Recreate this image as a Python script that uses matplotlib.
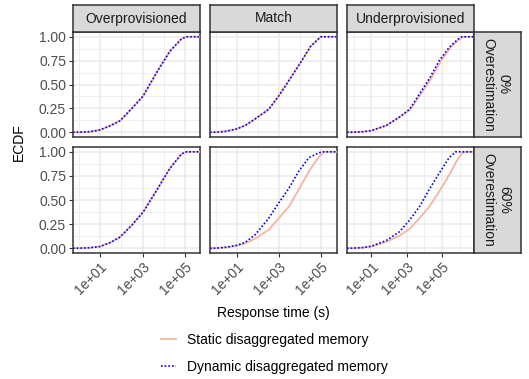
import matplotlib
matplotlib.use('Agg')
import matplotlib.pyplot as plt
import numpy as np
from matplotlib.lines import Line2D
from matplotlib.ticker import FixedLocator, FuncFormatter, NullFormatter

plt.rcParams['font.family'] = ['Liberation Sans', 'DejaVu Sans']

# ---------------- data ----------------
provisioning = ["Overprovisioned", "Match", "Underprovisioned"]
overestimation = ["0%\nOverestimation", "60%\nOverestimation"]
series_names = ["Static disaggregated memory", "Dynamic disaggregated memory"]
x_tick_exponents = [1, 3, 5]
y_ticks = [0.0, 0.25, 0.50, 0.75, 1.00]
y_tick_labels = ["0.00", "0.25", "0.50", "0.75", "1.00"]

# log10(response time in s) and ECDF values
over0_log10 = [0.0, 0.5, 1.0, 1.5, 1.94, 2.5, 3.03, 3.66, 4.29, 4.84, 5.07, 5.43]
over0_ecdf = [0.0, 0.005, 0.024, 0.07, 0.12, 0.25, 0.38, 0.625, 0.85, 0.98, 1.0, 1.0]
over60_log10 = [0.0, 0.5, 1.0, 1.5, 1.94, 2.5, 3.03, 3.66, 4.29, 4.84, 5.07, 5.43]
over60_ecdf = [0.0, 0.004, 0.017, 0.06, 0.115, 0.24, 0.375, 0.60, 0.83, 0.98, 1.0, 1.0]

match0_log10 = [0.0, 0.5, 1.0, 1.4, 1.88, 2.52, 3.0, 3.48, 4.04, 4.52, 5.0, 5.5]
match0_ecdf = [0.0, 0.01, 0.035, 0.07, 0.14, 0.24, 0.38, 0.54, 0.73, 0.90, 1.0, 1.0]
match60_static_log10 = [0.0, 0.5, 1.0, 1.4, 1.88, 2.52, 3.0, 3.48, 3.96, 4.44, 4.92, 5.16, 5.5]
match60_static_ecdf = [0.0, 0.008, 0.025, 0.05, 0.10, 0.19, 0.31, 0.43, 0.61, 0.80, 0.95, 1.0, 1.0]
match60_dynamic_log10 = [0.0, 0.5, 1.0, 1.4, 1.88, 2.52, 3.0, 3.48, 3.96, 4.44, 4.92, 5.08, 5.5]
match60_dynamic_ecdf = [0.0, 0.01, 0.03, 0.06, 0.14, 0.31, 0.47, 0.62, 0.80, 0.94, 0.99, 1.0, 1.0]

under0_static_log10 = [-0.06, 0.5, 1.0, 1.84, 2.62, 3.22, 3.80, 4.38, 4.95, 5.50, 5.95, 6.2, 6.49]
under0_static_ecdf = [0.0, 0.005, 0.017, 0.07, 0.16, 0.24, 0.40, 0.56, 0.75, 0.89, 0.97, 1.0, 1.0]
under0_dynamic_log10 = [-0.06, 0.5, 1.0, 1.84, 2.59, 3.16, 3.72, 4.28, 4.85, 5.41, 5.88, 6.12, 6.49]
under0_dynamic_ecdf = [0.0, 0.005, 0.017, 0.07, 0.16, 0.24, 0.40, 0.56, 0.75, 0.89, 0.97, 1.0, 1.0]
under60_static_log10 = [-0.06, 0.5, 1.0, 1.84, 2.59, 3.16, 3.72, 4.28, 4.85, 5.41, 5.88, 6.16, 6.35, 6.49]
under60_static_ecdf = [0.0, 0.005, 0.017, 0.066, 0.13, 0.20, 0.31, 0.43, 0.59, 0.76, 0.92, 0.99, 1.0, 1.0]
under60_dynamic_log10 = [-0.06, 0.5, 1.0, 1.84, 2.59, 3.16, 3.72, 4.28, 4.85, 5.41, 5.78, 6.49]
under60_dynamic_ecdf = [0.0, 0.006, 0.02, 0.08, 0.17, 0.29, 0.43, 0.61, 0.78, 0.94, 1.0, 1.0]

curves = {
    (0, 0): [(over0_log10, over0_ecdf), (over0_log10, over0_ecdf)],
    (0, 1): [(match0_log10, match0_ecdf), (match0_log10, match0_ecdf)],
    (0, 2): [(under0_static_log10, under0_static_ecdf), (under0_dynamic_log10, under0_dynamic_ecdf)],
    (1, 0): [(over60_log10, over60_ecdf), (over60_log10, over60_ecdf)],
    (1, 1): [(match60_static_log10, match60_static_ecdf), (match60_dynamic_log10, match60_dynamic_ecdf)],
    (1, 2): [(under60_static_log10, under60_static_ecdf), (under60_dynamic_log10, under60_dynamic_ecdf)],
}

# ---------------- style ----------------
W, H = 529, 379
static_color = '#F5B4A2'
dynamic_color = '#0000FF'
dark = '#333333'
grid_c = '#EBEBEB'
strip_bg = '#D9D9D9'
txt_c = '#4D4D4D'
FS = 10

fig = plt.figure(figsize=(W / 100, H / 100), dpi=100)
fig.patch.set_facecolor('white')


def fax(x0, x1, ytop, ybot):
    return fig.add_axes([x0 / W, 1 - ybot / H, (x1 - x0) / W, (ybot - ytop) / H])


col_x = [(73, 200), (210, 337), (347, 474)]
row_y = [(32, 137), (147, 253)]
strip_top = (5, 32)
strip_right = (474, 521)

# column x-ranges (data range + 5 % expansion in log space)
col_ranges = []
for c in range(3):
    allx = []
    for r in range(2):
        for xs, _ in curves[(r, c)]:
            allx += list(xs)
    lo, hi = min(allx), max(allx)
    pad = 0.05 * (hi - lo)
    col_ranges.append((lo - pad, hi + pad))

for r in range(2):
    for c in range(3):
        ax = fax(col_x[c][0], col_x[c][1], row_y[r][0], row_y[r][1])
        ax.set_xscale('log')
        lo, hi = col_ranges[c]
        ax.set_xlim(10 ** lo, 10 ** hi)
        ax.set_ylim(-0.05, 1.05)
        # grid
        ax.xaxis.set_major_locator(FixedLocator([10.0 ** e for e in x_tick_exponents]))
        ax.xaxis.set_minor_locator(FixedLocator([10.0 ** e for e in [0, 2, 4, 6]]))
        ax.xaxis.set_minor_formatter(NullFormatter())
        ax.yaxis.set_major_locator(FixedLocator(y_ticks))
        ax.yaxis.set_minor_locator(FixedLocator([0.125, 0.375, 0.625, 0.875]))
        ax.yaxis.set_minor_formatter(NullFormatter())
        ax.grid(which='major', color=grid_c, lw=1.1, zorder=0)
        ax.grid(which='minor', color=grid_c, lw=0.55, zorder=0)
        ax.set_axisbelow(True)
        for s in ax.spines.values():
            s.set_color(dark)
            s.set_linewidth(1.1)
        ax.tick_params(which='minor', length=0, labelbottom=False, labelleft=False)
        ax.tick_params(which='major', length=3, width=0.8, color=dark,
                       labelsize=FS, labelcolor=txt_c, pad=2)
        if c == 0:
            ax.set_yticklabels(y_tick_labels)
        else:
            ax.tick_params(axis='y', which='major', length=0, labelleft=False)
        if r == 1:
            ax.xaxis.set_major_formatter(FuncFormatter(lambda v, p: "1e+%02d" % int(round(np.log10(v)))))
            for lab in ax.get_xticklabels():
                lab.set_rotation(45)
                lab.set_ha('right')
                lab.set_va('top')
                lab.set_rotation_mode('anchor')
        else:
            ax.tick_params(axis='x', which='major', length=0, labelbottom=False)

        (sx, sy), (dx, dy) = curves[(r, c)]
        xl = ax.get_xlim()
        sxx = [xl[0]] + [10 ** v for v in sx] + [xl[1]]
        syy = [sy[0]] + list(sy) + [sy[-1]]
        dxx = [xl[0]] + [10 ** v for v in dx] + [xl[1]]
        dyy = [dy[0]] + list(dy) + [dy[-1]]
        ax.plot(sxx, syy, color=static_color, lw=1.3, solid_capstyle='butt', zorder=3)
        ax.plot(dxx, dyy, color=dynamic_color, lw=1.2, ls=(0, (1, 1.2)), zorder=4)
        ax.set_xlim(xl)

# strips
for c in range(3):
    sa = fax(col_x[c][0], col_x[c][1], strip_top[0], strip_top[1])
    sa.set_facecolor(strip_bg)
    sa.set_xticks([]); sa.set_yticks([])
    for s in sa.spines.values():
        s.set_color(dark); s.set_linewidth(1.1)
    sa.text(0.5, 0.5, provisioning[c], ha='center', va='center', fontsize=FS,
            color='#1A1A1A', transform=sa.transAxes)
for r in range(2):
    sa = fax(strip_right[0], strip_right[1], row_y[r][0], row_y[r][1])
    sa.set_facecolor(strip_bg)
    sa.set_xticks([]); sa.set_yticks([])
    for s in sa.spines.values():
        s.set_color(dark); s.set_linewidth(1.1)
    sa.text(0.47, 0.5, overestimation[r], ha='center', va='center', fontsize=FS,
            color='#1A1A1A', rotation=-90, multialignment='center',
            linespacing=1.15, transform=sa.transAxes)

# axis titles
fig.text(273.5 / W, 1 - 312.5 / H, "Response time (s)", ha='center', va='center', fontsize=FS, color='black')
fig.text(19 / W, 1 - 142.5 / H, "ECDF", ha='center', va='center', rotation=90, fontsize=FS, color='black')

# legend
handles = [Line2D([], [], color=static_color, lw=1.3),
           Line2D([], [], color=dynamic_color, lw=1.2, ls=(0, (1, 1.2)))]
fig.legend(handles, series_names, loc='upper left', bbox_to_anchor=(161 / W, 1 - 333 / H),
           frameon=False, fontsize=FS, handlelength=1.1, handletextpad=0.8,
           labelspacing=0.95, borderpad=0, borderaxespad=0, labelcolor='black')

fig.savefig('out.png', dpi=100, facecolor='white')
